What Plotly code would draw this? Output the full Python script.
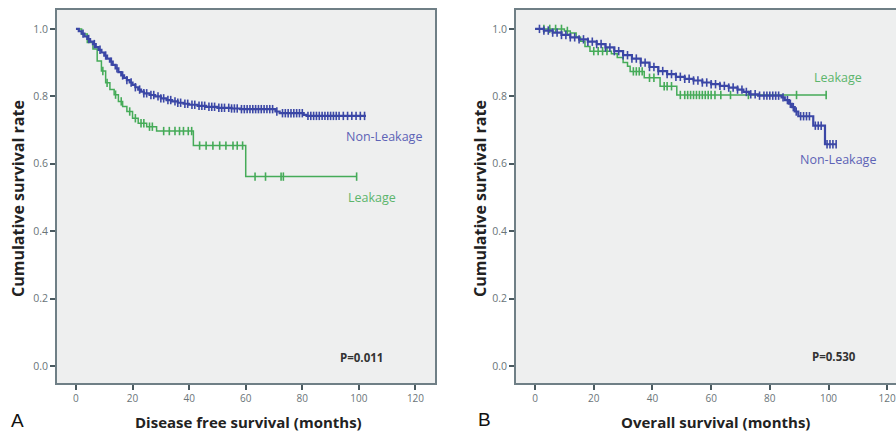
import numpy as np
import plotly.graph_objects as go

# ---------------- Data ----------------
# Panel A: Disease free survival
dfs_nonleak_t = [0, 1, 2, 3, 4, 5, 6, 7, 8, 9, 10, 11, 12, 13, 14, 15, 16, 17, 18, 19, 20,
                 21, 22, 23, 24, 26, 28, 30, 32, 34, 36, 38, 40, 43, 46, 50, 55, 58, 70.5, 72,
                 80.5, 81.5, 102.5]
dfs_nonleak_s = [1.0, 0.993, 0.986, 0.978, 0.970, 0.962, 0.955, 0.946, 0.938, 0.930, 0.921,
                 0.912, 0.903, 0.893, 0.883, 0.872, 0.862, 0.855, 0.848, 0.841, 0.834, 0.827,
                 0.820, 0.814, 0.809, 0.804, 0.800, 0.794, 0.789, 0.785, 0.781, 0.778, 0.775,
                 0.772, 0.769, 0.766, 0.764, 0.762, 0.755, 0.750, 0.745, 0.742, 0.742]
dfs_nonleak_cens = [2.5, 4.5, 6.5, 8.5, 10.5, 12.5, 14.5, 16.5, 18, 19.5, 21, 22.5, 24, 25,
                    26.5, 27.5, 29, 30, 31, 32.5, 33.5, 35, 36, 37, 38.5, 39.5, 41, 42, 43.5,
                    44.5, 45.5, 47, 48, 49, 50.5, 51.5, 52.5, 54, 55, 56, 57, 58.5, 59.5, 60.5,
                    61.5, 62.5, 63.5, 64.5, 65.5, 66.5, 67.5, 68.5, 69.5, 71, 73, 74, 75, 76,
                    77, 78, 79, 80, 82, 83, 84, 85, 86, 87, 88, 89, 90, 91, 92, 93, 94.5, 96,
                    97.5, 99, 100.5, 102]
dfs_leak_t = [0, 2, 4, 6, 7.5, 9, 10.5, 12, 13.5, 15, 16.5, 18, 20, 22, 25, 28.5, 41.5, 60, 99.2]
dfs_leak_s = [1.0, 0.985, 0.96, 0.94, 0.905, 0.875, 0.84, 0.82, 0.805, 0.785, 0.77, 0.755,
              0.735, 0.72, 0.71, 0.697, 0.654, 0.562, 0.562]
dfs_leak_cens = [9.5, 11, 14, 16, 19, 21, 23, 24, 26, 27, 31, 33, 35, 36.6, 38, 39.7, 40.9,
                 43.7, 46, 48.4, 50.8, 53, 55.5, 57, 58.9, 63.3, 67, 72.5, 73.3, 99.2]

# Panel B: Overall survival
os_nonleak_t = [0, 3, 6, 9, 12, 15, 18, 21, 24, 27, 30, 33, 36, 39, 42, 45, 48, 51, 54, 57,
                60, 63, 66, 69, 71, 73, 76, 84, 85.1, 86.5, 87.5, 88.5, 89.7, 94.8, 98.8, 102.6]
os_nonleak_s = [1.0, 0.995, 0.989, 0.982, 0.975, 0.969, 0.962, 0.955, 0.945, 0.934, 0.922,
                0.912, 0.900, 0.887, 0.875, 0.866, 0.858, 0.852, 0.847, 0.841, 0.836, 0.831,
                0.826, 0.820, 0.813, 0.806, 0.802, 0.797, 0.789, 0.778, 0.768, 0.755, 0.741,
                0.713, 0.658, 0.658]
os_nonleak_cens = [1.5, 3, 4.5, 6, 7.5, 9, 10.5, 12, 13.5, 15, 16.5, 18, 19.5, 21, 22.5, 24,
                   25.5, 27, 28.5, 30, 31.5, 33, 34.5, 36, 37.5, 39, 40.5, 42, 43.5, 45, 46.5,
                   48, 49.5, 51, 52.5, 54, 55.5, 57, 58.5, 60, 61.5, 63, 64.5, 66, 67.5, 69,
                   70.5, 72, 73.5, 75, 76.5, 78, 79, 80, 81, 82, 83, 84.5, 86, 87, 88, 89,
                   90.5, 91.5, 92.5, 93.5, 95.5, 96.5, 97.5, 99.5, 100.5, 101.5, 102.6]
os_leak_t = [0, 10, 12, 14, 15.5, 17, 18.7, 26, 28, 30, 31.5, 32.4, 37.2, 42.6, 48.3, 99.3]
os_leak_s = [1.0, 0.994, 0.988, 0.975, 0.963, 0.948, 0.934, 0.926, 0.915, 0.900, 0.889,
             0.874, 0.855, 0.830, 0.804, 0.804]
os_leak_cens = [3, 5, 7, 9, 11, 20, 21.5, 23, 24.5, 33.5, 34.5, 35.5, 36.5, 39, 40.5, 44,
                45, 46.5, 49.5, 51, 52, 53, 54, 55, 56, 57, 58, 59, 60, 61.3, 63.3, 66.6,
                72.7, 89.1, 99.2]

x_ticks = [0, 20, 40, 60, 80, 100, 120]
y_ticks = [0.0, 0.2, 0.4, 0.6, 0.8, 1.0]
y_tick_text = ["0.0", "0.2", "0.4", "0.6", "0.8", "1.0"]

panel_x_titles = ["Disease free survival (months)", "Overall survival (months)"]
y_title = "Cumulative survival rate"
p_values = ["P=0.011", "P=0.530"]
group_names = ["Non-Leakage", "Leakage"]
panel_letters = ["A", "B"]

# ---------------- Styling ----------------
BLUE = "#3b47a6"
GREEN = "#45ab58"
BLUE_TXT = "#5d63b6"
GREEN_TXT = "#5cb56c"
FRAME = "#6f7f86"
BG = "#eeefef"
FONT = "Open Sans"


def step_value(ts, ss, t):
    ts = np.asarray(ts, float)
    idx = np.searchsorted(ts, np.asarray(t, float), side="right") - 1
    return np.asarray(ss)[np.clip(idx, 0, len(ss) - 1)]


fig = go.Figure()


def add_curve(ts, ss, cens, color, xa, ya, width):
    fig.add_trace(go.Scatter(x=ts, y=ss, mode="lines", line=dict(color=color, width=width, shape="hv"),
                             xaxis=xa, yaxis=ya, showlegend=False, hoverinfo="skip"))
    fig.add_trace(go.Scatter(x=cens, y=step_value(ts, ss, cens), mode="markers",
                             marker=dict(symbol="line-ns-open", size=6, color=color,
                                         line=dict(color=color, width=1.6)),
                             xaxis=xa, yaxis=ya, showlegend=False, hoverinfo="skip"))


add_curve(dfs_leak_t, dfs_leak_s, dfs_leak_cens, GREEN, "x", "y", 1.5)
add_curve(dfs_nonleak_t, dfs_nonleak_s, dfs_nonleak_cens, BLUE, "x", "y", 2.2)
add_curve(os_leak_t, os_leak_s, os_leak_cens, GREEN, "x2", "y2", 1.5)
add_curve(os_nonleak_t, os_nonleak_s, os_nonleak_cens, BLUE, "x2", "y2", 2.2)

W, H = 896, 433
ydom = [(H - 383) / H, (H - 10) / H]

common_x = dict(tickmode="array", tickvals=x_ticks, ticks="outside", ticklen=5, tickwidth=1.5,
                tickcolor="#4a5a60", showgrid=False, zeroline=False, showline=True, linewidth=2,
                linecolor=FRAME, tickfont=dict(family=FONT, size=10, color="#6a7478"),
                ticklabeloverflow="allow", fixedrange=True)
common_y = dict(tickmode="array", tickvals=y_ticks, ticktext=y_tick_text, ticks="outside", ticklen=5,
                tickwidth=1.5, tickcolor="#4a5a60", showgrid=False, zeroline=False, showline=True,
                linewidth=2, linecolor=FRAME, tickfont=dict(family=FONT, size=10.5, color="#6a7478"),
                range=[-0.05, 1.056], fixedrange=True)

fig.update_layout(
    width=W, height=H, margin=dict(l=0, r=0, t=0, b=0),
    paper_bgcolor="white", plot_bgcolor=BG,
    xaxis=dict(common_x, domain=[57 / W, 435 / W], range=[-6.7, 126.9], mirror=True, anchor="y"),
    yaxis=dict(common_y, domain=ydom, mirror=True, anchor="x"),
    xaxis2=dict(common_x, domain=[516 / W, 1.0], range=[-6.5, 123.0], mirror=True, anchor="y2"),
    yaxis2=dict(common_y, domain=ydom, mirror=False, anchor="x2"),
)

ann = []
# group labels
ann.append(dict(x=108.7, y=0.68, xref="x", yref="y", text=group_names[0],
                font=dict(family=FONT, size=12.5, color=BLUE_TXT)))
ann.append(dict(x=104.8, y=0.50, xref="x", yref="y", text=group_names[1],
                font=dict(family=FONT, size=12.5, color=GREEN_TXT)))
ann.append(dict(x=103.2, y=0.856, xref="x2", yref="y2", text=group_names[1],
                font=dict(family=FONT, size=12.5, color=GREEN_TXT)))
ann.append(dict(x=103.2, y=0.613, xref="x2", yref="y2", text=group_names[0],
                font=dict(family=FONT, size=12.5, color=BLUE_TXT)))
# p-values
ann.append(dict(x=100.9, y=0.027, xref="x", yref="y", text="<b>%s</b>" % p_values[0],
                font=dict(family=FONT, size=11.5, color="#333333")))
ann.append(dict(x=101.9, y=0.030, xref="x2", yref="y2", text="<b>%s</b>" % p_values[1],
                font=dict(family=FONT, size=11.5, color="#333333")))
# axis titles
ann.append(dict(x=248 / W, y=(H - 422) / H, xref="paper", yref="paper",
                text="<b>%s</b>" % panel_x_titles[0], font=dict(family=FONT, size=15, color="#222222")))
ann.append(dict(x=715 / W, y=(H - 422) / H, xref="paper", yref="paper",
                text="<b>%s</b>" % panel_x_titles[1], font=dict(family=FONT, size=15, color="#222222")))
ann.append(dict(x=18 / W, y=(H - 199) / H, xref="paper", yref="paper", textangle=-90,
                text="<b>%s</b>" % y_title, font=dict(family=FONT, size=16, color="#222222")))
ann.append(dict(x=480 / W, y=(H - 199) / H, xref="paper", yref="paper", textangle=-90,
                text="<b>%s</b>" % y_title, font=dict(family=FONT, size=16, color="#222222")))
# panel letters
ann.append(dict(x=17 / W, y=(H - 420) / H, xref="paper", yref="paper", text=panel_letters[0],
                font=dict(family="Liberation Sans", size=19, color="#111111")))
ann.append(dict(x=484 / W, y=(H - 419) / H, xref="paper", yref="paper", text=panel_letters[1],
                font=dict(family="Liberation Sans", size=19, color="#111111")))

for a in ann:
    a.setdefault("showarrow", False)
    a.setdefault("xanchor", "center")
    a.setdefault("yanchor", "middle")
fig.update_layout(annotations=ann)

fig.write_html("out.html", config={"displayModeBar": False},
               post_script="document.body.style.margin='0px';document.body.style.overflow='hidden';")
